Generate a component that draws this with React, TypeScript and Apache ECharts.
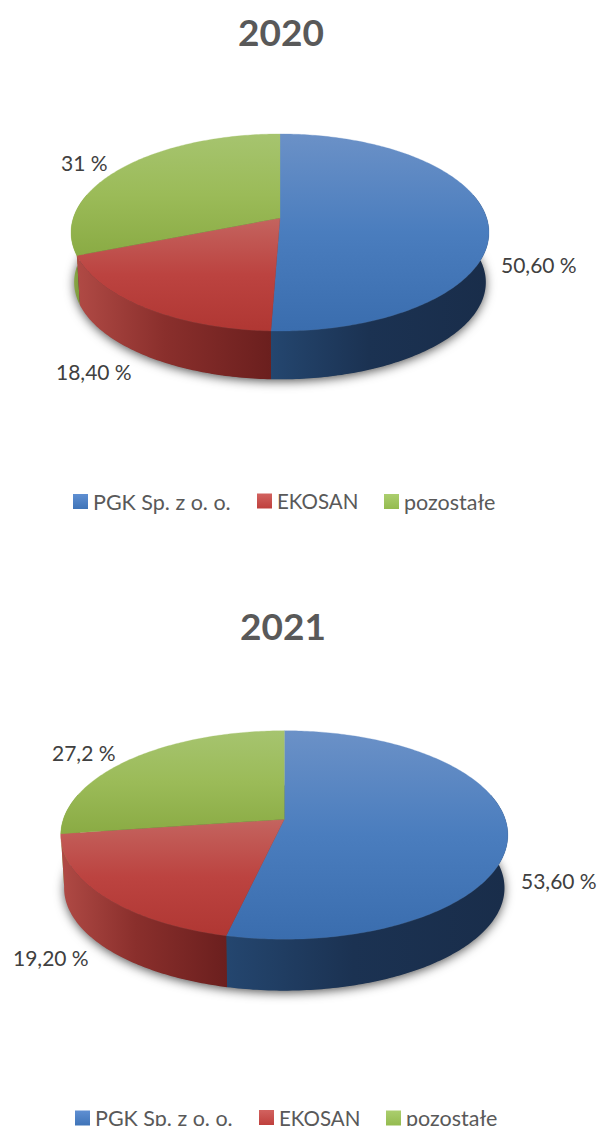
import React, { useEffect, useRef } from "react";
import * as echarts from "echarts";

const years = ["2020", "2021"];
const categories = ["PGK Sp. z o. o.", "EKOSAN", "pozostałe"];
const values2020 = [50.6, 18.4, 31];
const values2021 = [53.6, 19.2, 27.2];
const labels2020 = ["50,60 %", "18,40 %", "31 %"];
const labels2021 = ["53,60 %", "19,20 %", "27,2 %"];

const FONT = "Lato";

// Perspective disc: pivot, half-axes and depth of each pie
const geometry = [
  { px: 280, py: 218, a: 206.7, b: 96.4, k: 0.147, depth: 50, baseScale: 0.985 },
  { px: 284.3, py: 819.3, a: 221, b: 101.9, k: 0.1505, depth: 53.2, baseScale: 0.985 },
];
const labelAnchors = [
  [[501, 264], [56, 371], [61, 162]],
  [[521, 880], [13, 957], [52, 752]],
];
const titlePos = [{ left: 281, top: 13 }, { left: 283, top: 607 }];
const legendLefts = [[73, 257, 384], [75, 259, 386]];
const legendTops = [490.5, 1107];
const legendFontSizes = [21.5, 20.5, 21.5];

const v = (c0: string, c1: string, c2?: string) => ({
  type: "linear", x: 0, y: 0, x2: 0, y2: 1,
  colorStops: c2
    ? [{ offset: 0, color: c0 }, { offset: 0.5, color: c1 }, { offset: 1, color: c2 }]
    : [{ offset: 0, color: c0 }, { offset: 1, color: c1 }],
});
const h = (c0: string, c1: string, c2: string) => ({
  type: "linear", x: 0, y: 0, x2: 1, y2: 0,
  colorStops: [{ offset: 0, color: c0 }, { offset: 0.45, color: c1 }, { offset: 1, color: c2 }],
});
const topFills = [
  v("#6B91C7", "#4A7DBE", "#3A6DAE"),
  v("#C4645F", "#BC4340", "#B03733"),
  v("#A6C46F", "#9BBB58", "#8AAB44"),
];
const wallFills = [
  h("#24466F", "#1B3252", "#192D4A"),
  h("#B04A45", "#8A2F2C", "#6B1F1E"),
  h("#8FAE4C", "#7C9A3C", "#6D8A32"),
];
const wallOrder = [2, 2, 1];
const legendFills = [
  v("#5F8FD2", "#3F74B8"),
  v("#D2625F", "#BF403D"),
  v("#ABCE6E", "#94BB4F"),
];

type Geo = (typeof geometry)[number];
const rad = (share: number) => (share / 100) * Math.PI * 2;

function rimPoint(g: Geo, t: number, scale: number, dy: number) {
  const d = 1 + g.k * Math.cos(t);
  return [g.px + (scale * g.a * Math.sin(t)) / d, g.py + dy - (scale * g.b * Math.cos(t)) / d];
}
function arcPoints(g: Geo, t0: number, t1: number, scale: number, dy: number) {
  const n = Math.max(2, Math.ceil(Math.abs(t1 - t0) / 0.015));
  const pts: number[][] = [];
  for (let i = 0; i <= n; i++) pts.push(rimPoint(g, t0 + ((t1 - t0) * i) / n, scale, dy));
  return pts;
}

function sliceSeries(chartIdx: number, catIdx: number, values: number[], labels: string[]) {
  const g = geometry[chartIdx];
  const start = values.slice(0, catIdx).reduce((s, x) => s + x, 0);
  return {
    type: "custom",
    name: categories[catIdx],
    coordinateSystem: "none",
    silent: true,
    itemStyle: { color: legendFills[catIdx] },
    data: [[values[catIdx]]],
    renderItem: (_p: any, api: any) => {
      const t0 = rad(start);
      const t1 = rad(start + api.value(0));
      const children: any[] = [];
      // visible front portion of the outer wall
      const w0 = Math.max(t0, Math.PI * 0.42);
      const w1 = Math.min(t1, Math.PI * 1.58);
      if (w1 > w0) {
        children.push({
          type: "polygon",
          z2: wallOrder[catIdx],
          shape: {
            points: [
              ...arcPoints(g, w0, w1, 1, 0),
              ...arcPoints(g, w1, w0, g.baseScale, g.depth),
            ],
          },
          style: { fill: wallFills[catIdx] },
        });
      }
      children.push({
        type: "polygon",
        z2: 3,
        shape: { points: [[g.px, g.py], ...arcPoints(g, t0, t1, 1, 0)] },
        style: { fill: topFills[catIdx], stroke: topFills[catIdx], lineWidth: 0.3 },
      });
      const [lx, ly] = labelAnchors[chartIdx][catIdx];
      children.push({
        type: "text",
        z2: 4,
        x: lx,
        y: ly,
        style: {
          text: labels[catIdx],
          fontFamily: FONT,
          fontSize: 21,
          fill: "#404040",
          align: "left",
          verticalAlign: "middle",
        },
      });
      return { type: "group", children };
    },
  };
}

function shadowSeries(chartIdx: number) {
  const g = geometry[chartIdx];
  return {
    type: "custom",
    name: "shadow" + years[chartIdx],
    coordinateSystem: "none",
    silent: true,
    z: 1,
    data: [[1]],
    renderItem: () => ({
      type: "polygon",
      z2: 0,
      shape: { points: arcPoints(g, 0, Math.PI * 2, g.baseScale - 0.004, g.depth) },
      style: {
        fill: "rgba(60,60,60,0.9)",
        shadowBlur: 11,
        shadowColor: "rgba(0,0,0,0.8)",
        shadowOffsetY: 2,
      },
    }),
  };
}

export default function App() {
  const ref = useRef<HTMLDivElement>(null);
  useEffect(() => {
    document.body.style.margin = "0";
    const chart = echarts.init(ref.current!, undefined, { renderer: "svg" });
    chart.setOption({
      animation: false,
      backgroundColor: "#ffffff",
      title: years.map((y, i) => ({
        text: y,
        left: titlePos[i].left,
        top: titlePos[i].top,
        textAlign: "center",
        padding: 0,
        textStyle: { fontFamily: FONT, fontSize: 37, fontWeight: "bold", color: "#595959" },
      })),
      legend: legendLefts.flatMap((lefts, i) =>
        lefts.map((left, c) => ({
          data: [categories[c]],
          left,
          top: legendTops[i],
          padding: 0,
          orient: "horizontal",
          selectedMode: false,
          itemWidth: 15,
          itemHeight: 15,
          icon: "rect",
          textStyle: { fontFamily: FONT, fontSize: legendFontSizes[c], color: "#595959" },
        }))
      ),
      series: [
        shadowSeries(0),
        shadowSeries(1),
        ...categories.map((_, i) => ({ ...sliceSeries(0, i, values2020, labels2020), z: 2 })),
        ...categories.map((_, i) => ({ ...sliceSeries(1, i, values2021, labels2021), z: 2 })),
      ],
    });
    return () => chart.dispose();
  }, []);
  return (
    <div
      ref={ref}
      style={{ position: "absolute", left: 0, top: 0, width: 599, height: 1126, overflow: "hidden" }}
    />
  );
}
